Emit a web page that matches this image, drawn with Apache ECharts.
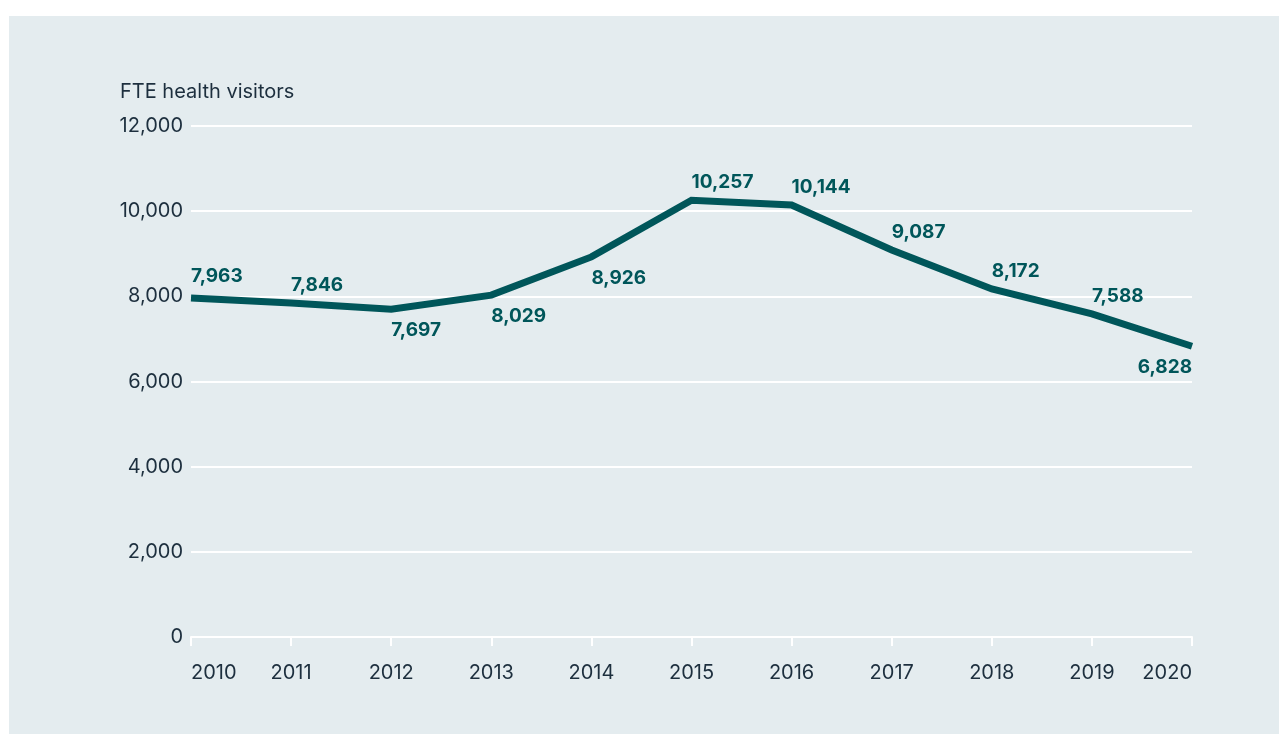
<!DOCTYPE html>
<html>
<head>
<meta charset="utf-8">
<script src="https://cdn.jsdelivr.net/npm/echarts@6/dist/echarts.min.js"></script>
<style>
  html, body { margin: 0; padding: 0; background: #ffffff; width: 1279px; height: 734px; overflow: hidden; }
  #panel { position: absolute; left: 9px; top: 16px; width: 1270px; height: 718px; background: #e4ecef; }
  #chart { width: 100%; height: 100%; }
</style>
</head>
<body>
<div id="panel"><div id="chart"></div></div>
<script>
// Full-time-equivalent health visitors, 2010–2020
const years = ['2010', '2011', '2012', '2013', '2014', '2015', '2016', '2017', '2018', '2019', '2020'];
const fteHealthVisitors = [7963, 7846, 7697, 8029, 8926, 10257, 10144, 9087, 8172, 7588, 6828];
const yTicks = [0, 2000, 4000, 6000, 8000, 10000, 12000];

const INK = '#1d2f3e';
const TEAL = '#00565a';
const FONT = 'Inter, "Noto Sans", sans-serif';

const fmt = v => Number(v).toLocaleString('en-US');

// Labels sit above the line except where it dips or is climbing steeply
const below = new Set(['2012', '2013', '2014', '2020']);
const seriesData = fteHealthVisitors.map((v, i) => {
  const isBelow = below.has(years[i]);
  const isLast = i === years.length - 1;
  return {
    value: v,
    label: {
      position: isBelow ? 'bottom' : 'top',
      distance: isBelow ? 12 : (i === 0 ? 12 : 8),
      align: isLast ? 'right' : 'left'
    }
  };
});

const chart = echarts.init(document.getElementById('chart'), null, { renderer: 'canvas' });
chart.setOption({
  backgroundColor: 'transparent',
  animation: false,
  textStyle: { fontFamily: FONT },
  title: {
    text: 'FTE health visitors',
    left: 106,
    top: 61,
    textStyle: { fontFamily: FONT, fontSize: 20, fontWeight: 'normal', color: INK }
  },
  grid: { left: 182, right: 87, top: 110, bottom: 97, containLabel: false },
  xAxis: {
    type: 'category',
    data: years,
    boundaryGap: false,
    axisLine: { show: true, lineStyle: { color: '#ffffff', width: 2 } },
    axisTick: { show: true, length: 9, lineStyle: { color: '#ffffff', width: 2 } },
    axisLabel: {
      color: INK, fontSize: 20, fontFamily: FONT, margin: 26,
      alignMinLabel: 'left', alignMaxLabel: 'right'
    },
    splitLine: { show: false }
  },
  yAxis: {
    type: 'value',
    min: yTicks[0],
    max: yTicks[yTicks.length - 1],
    interval: yTicks[1] - yTicks[0],
    axisLine: { show: false },
    axisTick: { show: false },
    axisLabel: { color: INK, fontSize: 20, fontFamily: FONT, margin: 8, formatter: fmt },
    splitLine: { show: true, lineStyle: { color: '#ffffff', width: 2 } }
  },
  series: [{
    type: 'line',
    data: seriesData,
    showSymbol: true,
    symbol: 'circle',
    symbolSize: 0.01,
    lineStyle: { color: TEAL, width: 7, cap: 'butt', join: 'miter' },
    itemStyle: { color: TEAL },
    label: {
      show: true,
      color: TEAL,
      fontSize: 19,
      fontWeight: 'bold',
      fontFamily: FONT,
      formatter: p => fmt(p.value)
    }
  }]
});
</script>
</body>
</html>
